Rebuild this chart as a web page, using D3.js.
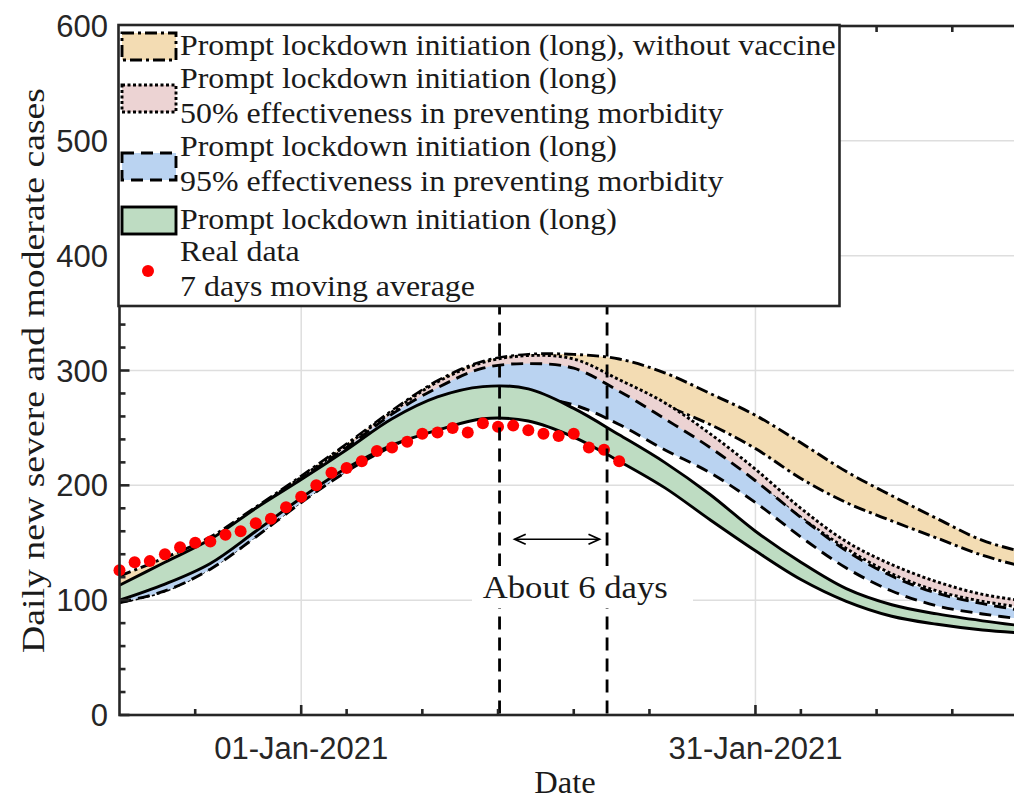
<!DOCTYPE html>
<html>
<head>
<meta charset="utf-8">
<script src="https://cdn.jsdelivr.net/npm/d3@7"></script>
<style>
  body { margin: 0; background: #fff; }
  svg { display: block; }
</style>
</head>
<body>
<svg id="chart" width="1014" height="801"></svg>
<script>
// ---- DATA (x = days counted from 01-Jan-2021) ----
var modelDays = [-12, -9, -6, -3, 0, 3, 6, 9, 12, 15, 18, 21, 24, 27, 30, 33, 36, 39, 42, 45, 48];

// without vaccine
var orangeHi = [121, 137, 155, 181, 208, 236, 265, 291, 308, 314, 314, 310, 298, 280, 261, 237, 212, 191, 171, 152, 141];
var orangeLo = [99, 110, 130, 158, 188, 216, 242, 265, 283, 295, 296, 288, 270, 253, 232, 206, 185, 169, 154, 139, 128];
// 50% effectiveness
var pinkHi = [110, 131, 152, 180, 207, 235, 264, 290, 307, 313, 310, 292, 272, 245, 214, 180, 151, 131, 116, 105, 99];
var pinkLo = [98, 108, 128, 156, 186, 213, 236, 256, 272, 282, 282, 270, 250, 226, 202, 172, 145, 123, 108, 99, 93];
// 95% effectiveness
var blueHi = [108, 131, 152, 180, 206, 233, 262, 285, 302, 306, 302, 282, 258, 233, 204, 172, 143, 121, 106, 97, 90];
var blueLo = [98, 108, 127, 155, 185, 212, 234, 252, 268, 276, 270, 253, 231, 211, 185, 155, 128, 108, 95, 88, 83];
// prompt lockdown initiation (long)
var greenHi = [113, 133, 153, 180, 205, 231, 258, 277, 286, 284, 267, 244, 220, 192, 160, 133, 110, 96, 88, 82, 77];
var greenLo = [100, 114, 132, 160, 189, 215, 235, 248, 258, 256, 242, 221, 198, 170, 143, 118, 99, 86, 79, 74, 71];

// real data, 7 days moving average
var realDays = [-12, -11, -10, -9, -8, -7, -6, -5, -4, -3, -2, -1, 0, 1, 2, 3, 4, 5, 6, 7, 8, 9, 10,
                11, 12, 13, 14, 15, 16, 17, 18, 19, 20, 21];
var realValues = [126, 133, 134, 140, 146, 150, 151, 157, 160, 167, 171, 181, 190, 200, 211, 215, 221,
                  230, 233, 238, 245, 246, 250, 246, 254, 251, 252, 248, 245, 243, 245, 233, 231, 221];

var yTicks = [0, 100, 200, 300, 400, 500, 600];
var yMinorTicks = [20, 40, 60, 80, 120, 140, 160, 180, 220, 240, 260, 280, 320, 340, 360, 380,
                   420, 440, 460, 480, 520, 540, 560, 580];
var xTickDays = [0, 30];
var xTickLabels = ["01-Jan-2021", "31-Jan-2021"];
var xMinorDays = [-7, 3, 8, 13, 18, 23, 33, 38, 43];
var markerDays = [13.1, 20.2];
var arrowDays = [14.1, 19.7];
var arrowValue = 153;
var noteDay = 18.1, noteValue = 102;
var noteText = "About 6 days";

var legendNames = ["without", "p50", "p95", "lockdown", "real"];
var legendLines = [
  ["Prompt lockdown initiation (long), without vaccine"],
  ["Prompt lockdown initiation (long)", "50% effectiveness in preventing morbidity"],
  ["Prompt lockdown initiation (long)", "95% effectiveness in preventing morbidity"],
  ["Prompt lockdown initiation (long)"],
  ["Real data", "7 days moving average"]
];

// ---- SETUP ----
var day0 = new Date(2021, 0, 1);
function toDate(d) { return new Date(day0.getTime() + d * 86400000); }

var svg = d3.select("#chart");
var pLeft = 119.5, pRight = 1028, pTop = 26, pBottom = 715;

var x = d3.scaleTime().domain([toDate(-12), toDate(48)]).range([pLeft, pRight]);
var y = d3.scaleLinear().domain([0, 600]).range([pBottom, pTop]);

var serif = "'Liberation Serif', 'DejaVu Serif', serif";
var sans = "'Liberation Sans', Arial, sans-serif";
var axisColor = "#262626";
var textColor = "#1a1a1a";

// widen serif text a little so it reads like the LaTeX font of the original
function stretch(sel, k) {
  sel.each(function() {
    var w = this.getComputedTextLength();
    d3.select(this).attr("textLength", w * k).attr("lengthAdjust", "spacingAndGlyphs");
  });
}

var bands = [
  {hi: orangeHi, lo: orangeLo, fill: "#f3dcb3", dash: "12,4,3,4"},
  {hi: pinkHi, lo: pinkLo, fill: "#ecd3d3", dash: "3,2.5"},
  {hi: blueHi, lo: blueLo, fill: "#bad3f1", dash: "12,7"},
  {hi: greenHi, lo: greenLo, fill: "#bedcc2", dash: null}
];

var curve = d3.curveCatmullRom.alpha(0.5);

// GRID
var grid = svg.append("g");
grid.selectAll(".gy").data(yTicks.filter(function(v){ return v > 0 && v < 600; }))
  .enter().append("line")
  .attr("x1", pLeft).attr("x2", pRight)
  .attr("y1", function(d){ return y(d); }).attr("y2", function(d){ return y(d); })
  .attr("stroke", "#dedede").attr("stroke-width", 1.5);
grid.selectAll(".gx").data(xTickDays)
  .enter().append("line")
  .attr("x1", function(d){ return x(toDate(d)); }).attr("x2", function(d){ return x(toDate(d)); })
  .attr("y1", pTop).attr("y2", pBottom)
  .attr("stroke", "#dedede").attr("stroke-width", 1.5);

// BANDS
var plot = svg.append("g");
bands.forEach(function(b) {
  var pts = modelDays.map(function(d, i){ return {date: toDate(d), hi: b.hi[i], lo: b.lo[i]}; });
  var area = d3.area()
    .x(function(p){ return x(p.date); })
    .y0(function(p){ return y(p.lo); })
    .y1(function(p){ return y(p.hi); })
    .curve(curve);
  plot.append("path").datum(pts).attr("d", area).attr("fill", b.fill);
  ["hi", "lo"].forEach(function(k) {
    var line = d3.line()
      .x(function(p){ return x(p.date); })
      .y(function(p){ return y(p[k]); })
      .curve(curve);
    plot.append("path").datum(pts).attr("d", line)
      .attr("fill", "none").attr("stroke", "#000").attr("stroke-width", 2.9)
      .attr("stroke-dasharray", b.dash);
  });
});

// REAL DATA
plot.selectAll(".dot").data(realDays)
  .enter().append("circle")
  .attr("cx", function(d){ return x(toDate(d)); })
  .attr("cy", function(d, i){ return y(realValues[i]); })
  .attr("r", 6).attr("fill", "#ff0000");

// MARKERS
plot.selectAll(".mark").data(markerDays)
  .enter().append("line")
  .attr("x1", function(d){ return x(toDate(d)); }).attr("x2", function(d){ return x(toDate(d)); })
  .attr("y1", y(360)).attr("y2", pBottom)
  .attr("stroke", "#000").attr("stroke-width", 2.8).attr("stroke-dasharray", "13,8");

// NOTE WITH WHITE BOX
plot.append("rect")
  .attr("x", 472).attr("y", 566).attr("width", 221).attr("height", 42)
  .attr("fill", "#fff");
plot.append("text")
  .attr("x", x(toDate(noteDay))).attr("y", y(noteValue))
  .attr("text-anchor", "middle")
  .style("font-family", serif).style("font-size", "31px").attr("fill", textColor)
  .text(noteText)
  .call(stretch, 1.12);

// ARROW
var ax1 = x(toDate(arrowDays[0])), ax2 = x(toDate(arrowDays[1])), ay = y(arrowValue);
plot.append("line").attr("x1", ax1).attr("x2", ax2).attr("y1", ay).attr("y2", ay)
  .attr("stroke", "#000").attr("stroke-width", 1.6);
plot.append("path")
  .attr("d", "M" + (ax1 + 11) + "," + (ay - 5) + "L" + ax1 + "," + ay + "L" + (ax1 + 11) + "," + (ay + 5) +
             "M" + (ax2 - 11) + "," + (ay - 5) + "L" + ax2 + "," + ay + "L" + (ax2 - 11) + "," + (ay + 5))
  .attr("fill", "none").attr("stroke", "#000").attr("stroke-width", 1.8);

// AXES
var axes = svg.append("g").attr("stroke", axisColor).attr("stroke-width", 2.6);
axes.append("rect").attr("x", pLeft).attr("y", pTop).attr("width", pRight - pLeft).attr("height", pBottom - pTop)
  .attr("fill", "none");
axes.selectAll(".ymaj").data(yTicks).enter().append("line")
  .attr("x1", pLeft).attr("x2", pLeft + 10)
  .attr("y1", function(d){ return y(d); }).attr("y2", function(d){ return y(d); });
axes.selectAll(".ymin").data(yMinorTicks).enter().append("line")
  .attr("x1", pLeft).attr("x2", pLeft + 6)
  .attr("y1", function(d){ return y(d); }).attr("y2", function(d){ return y(d); });
[pBottom, pTop].forEach(function(yy) {
  var dir = yy == pBottom ? -1 : 1;
  axes.selectAll(null).data(xTickDays).enter().append("line")
    .attr("x1", function(d){ return x(toDate(d)); }).attr("x2", function(d){ return x(toDate(d)); })
    .attr("y1", yy).attr("y2", yy + dir * 10);
  axes.selectAll(null).data(xMinorDays).enter().append("line")
    .attr("x1", function(d){ return x(toDate(d)); }).attr("x2", function(d){ return x(toDate(d)); })
    .attr("y1", yy).attr("y2", yy + dir * 6);
});

// TICK LABELS
svg.selectAll(".ylab").data(yTicks).enter().append("text")
  .attr("x", 108).attr("y", function(d){ return y(d) + 11; })
  .attr("text-anchor", "end")
  .style("font-family", sans).style("font-size", "31px").attr("fill", axisColor)
  .text(function(d){ return d; });
svg.selectAll(".xlab").data(xTickDays).enter().append("text")
  .attr("x", function(d){ return x(toDate(d)); }).attr("y", 759)
  .attr("text-anchor", "middle")
  .style("font-family", sans).style("font-size", "31px").attr("fill", axisColor)
  .text(function(d, i){ return xTickLabels[i]; });

// AXIS TITLES
svg.append("text")
  .attr("transform", "translate(44," + ((pTop + pBottom) / 2) + ") rotate(-90)")
  .attr("text-anchor", "middle")
  .style("font-family", serif).style("font-size", "32px").attr("fill", textColor)
  .text("Daily new severe and moderate cases")
  .call(stretch, 1.18);
svg.append("text")
  .attr("x", 565).attr("y", 793)
  .attr("text-anchor", "middle")
  .style("font-family", serif).style("font-size", "31px").attr("fill", textColor)
  .text("Date")
  .call(stretch, 1.05);

// LEGEND
var leg = svg.append("g");
leg.append("rect").attr("x", pLeft - 1).attr("y", pTop - 1).attr("width", 721).attr("height", 281)
  .attr("fill", "#fff").attr("stroke", axisColor).attr("stroke-width", 2.6);
var rowCenters = [46, 98, 166, 220, 271];
legendNames.forEach(function(name, i) {
  var cy = rowCenters[i];
  if (i < bands.length) {
    leg.append("rect").attr("x", 122).attr("y", cy - 13).attr("width", 54).attr("height", 27)
      .attr("fill", bands[i].fill).attr("stroke", "#000").attr("stroke-width", 2.9)
      .attr("stroke-dasharray", bands[i].dash);
  } else {
    leg.append("circle").attr("cx", 148).attr("cy", cy).attr("r", 6).attr("fill", "#ff0000");
  }
  var lines = legendLines[i];
  lines.forEach(function(t, j) {
    var base = lines.length == 1 ? cy + 9 : cy - 10 + j * 35;
    leg.append("text").attr("x", 180).attr("y", base)
      .style("font-family", serif).style("font-size", "29px").attr("fill", textColor)
      .text(t)
      .call(stretch, 1.1);
  });
});
</script>
</body>
</html>
